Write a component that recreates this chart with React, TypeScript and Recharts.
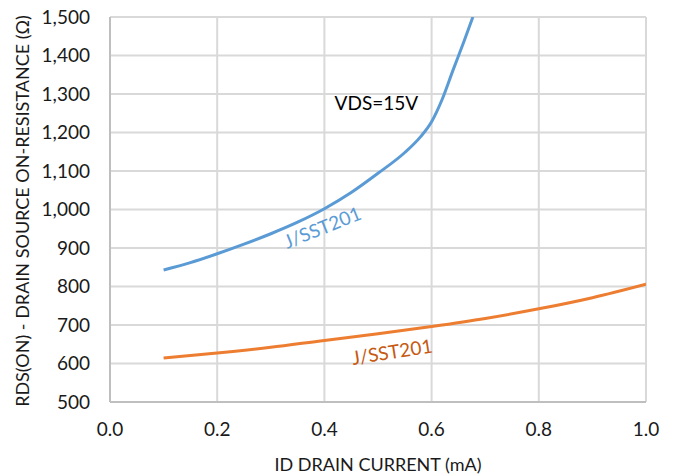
import React from "react"
import { LineChart, Line, XAxis, YAxis, CartesianGrid, ReferenceDot, Customized } from "recharts"

// drain current (mA) / on-resistance (ohm)
const blueX = [0.1, 0.15, 0.2, 0.25, 0.3, 0.35, 0.4, 0.45, 0.5, 0.55, 0.58, 0.6, 0.62, 0.64, 0.66, 0.677]
const blueY = [843, 862, 885, 910, 937, 967, 1002, 1044, 1094, 1148, 1190, 1228, 1287, 1362, 1435, 1500]

const orangeX = [0.1, 0.2, 0.3, 0.4, 0.5, 0.6, 0.7, 0.8, 0.9, 1.0]
const orangeY = [614, 627, 642, 660, 677, 696, 717, 742, 771, 806]

const xTicks = [0, 0.2, 0.4, 0.6, 0.8, 1.0]
const yTicks = [500, 600, 700, 800, 900, 1000, 1100, 1200, 1300, 1400, 1500]

const seriesName = "J/SST201"
const condition = "VDS=15V"
const xTitle = "ID DRAIN CURRENT (mA)"
const yTitle = "RDS(ON) - DRAIN SOURCE ON-RESISTANCE (\u03A9)"

const blueData = blueX.map((x, i) => ({ x, y: blueY[i] }))
const orangeData = orangeX.map((x, i) => ({ x, y: orangeY[i] }))

const FONT = "Lato, 'Open Sans', sans-serif"
const BLUE = "#5b9bd5"
const ORANGE = "#ed7d31"

function rotatedLabel(text: string, color: string, angle: number, size = 19) {
  return (props: any) => {
    const vb = props.viewBox || {}
    const cx = (vb.x ?? 0) + (vb.width ?? 0) / 2
    const cy = (vb.y ?? 0) + (vb.height ?? 0) / 2
    return (
      <text
        x={cx}
        y={cy}
        fill={color}
        fontSize={size}
        fontFamily={FONT}
        textAnchor="middle"
        dominantBaseline="central"
        transform={`rotate(${angle} ${cx} ${cy})`}
      >
        {text}
      </text>
    )
  }
}

function AxisTitles() {
  return (
    <g fontFamily={FONT} fontSize={18} fill="#1a1a1a">
      <text x={378} y={471} textAnchor="middle">{xTitle}</text>
      <text x={22} y={211} textAnchor="middle" dominantBaseline="central" transform="rotate(-90 22 211)">
        {yTitle}
      </text>
    </g>
  )
}

export default function App() {
  return (
    <div style={{ position: "absolute", left: 0, top: 0, background: "#fff" }}>
      <LineChart width={678} height={476} margin={{ top: 17, right: 32, bottom: 0, left: 0 }} style={{ fontFamily: FONT }}>
        <CartesianGrid stroke="#d9d9d9" strokeWidth={2} />
        <XAxis
          type="number"
          dataKey="x"
          domain={[0, 1]}
          ticks={xTicks}
          tickFormatter={(v: number) => v.toFixed(1)}
          height={74}
          tickLine={false}
          tickSize={6}
          tickMargin={15}
          axisLine={{ stroke: "#bfbfbf", strokeWidth: 2 }}
          tick={{ fill: "#1a1a1a", fontSize: 19 }}
          allowDataOverflow
        />
        <YAxis
          type="number"
          dataKey="y"
          domain={[500, 1500]}
          ticks={yTicks}
          tickFormatter={(v: number) => v.toLocaleString("en-US")}
          width={110}
          tickLine={false}
          tickSize={6}
          tickMargin={14}
          axisLine={{ stroke: "#bfbfbf", strokeWidth: 2 }}
          tick={{ fill: "#1a1a1a", fontSize: 19 }}
          allowDataOverflow
        />
        <Line data={orangeData} dataKey="y" type="monotone" stroke={ORANGE} strokeWidth={3} dot={false} isAnimationActive={false} />
        <Line data={blueData} dataKey="y" type="monotone" stroke={BLUE} strokeWidth={3} dot={false} isAnimationActive={false} />
        <ReferenceDot x={0.497} y={1277} r={1} fill="none" stroke="none" label={{ content: rotatedLabel(condition, "#000", 0) }} />
        <ReferenceDot x={0.396} y={955} r={1} fill="none" stroke="none" label={{ content: rotatedLabel(seriesName, BLUE, -22) }} />
        <ReferenceDot x={0.526} y={632} r={1} fill="none" stroke="none" label={{ content: rotatedLabel(seriesName, "#c65911", -9) }} />
        <Customized component={AxisTitles} />
      </LineChart>
    </div>
  )
}
